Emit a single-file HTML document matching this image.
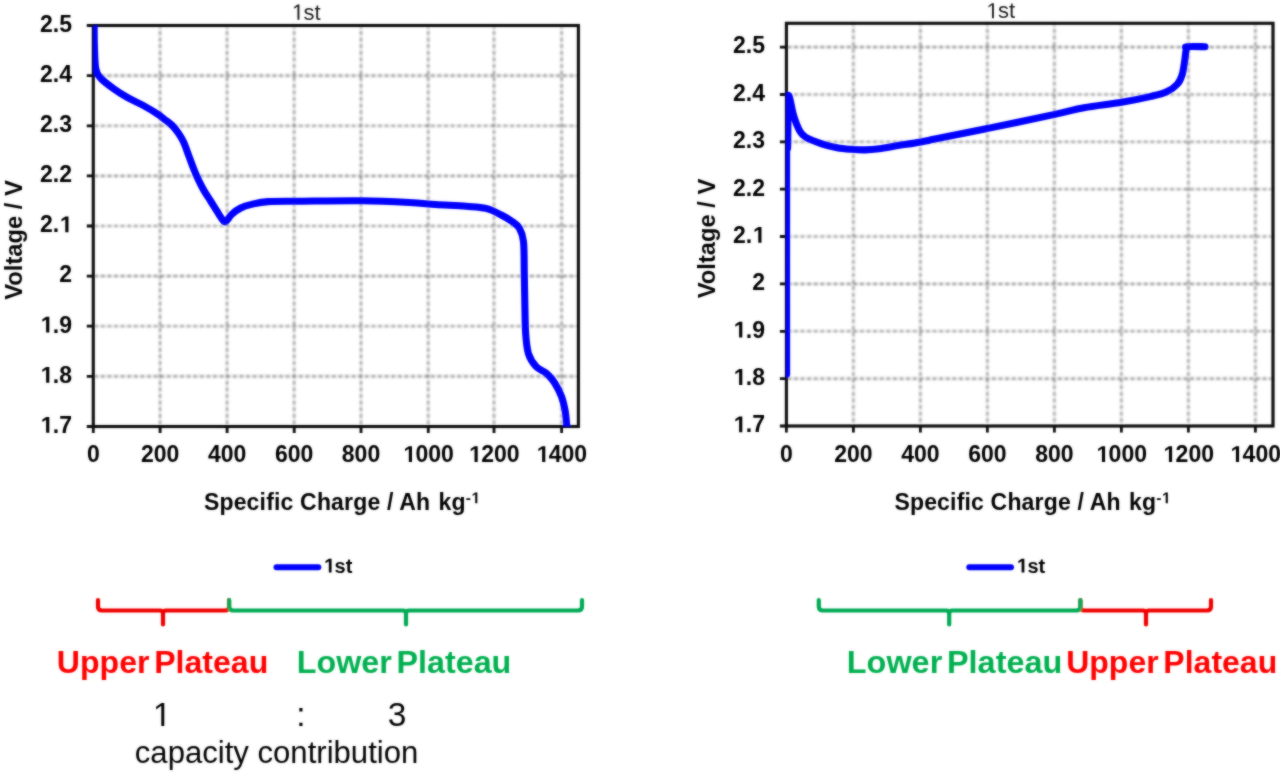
<!DOCTYPE html>
<html><head><meta charset="utf-8"><style>
html,body{margin:0;padding:0;background:#fff;}
body{width:1280px;height:772px;overflow:hidden;}
svg{display:block;}
text{font-family:"Liberation Sans",sans-serif;}
.ax{font-size:23px;font-weight:bold;fill:#000;}
.ti{font-size:22px;fill:#1c1c1c;}
.sup{font-size:15.5px;}
.lg{font-size:20px;font-weight:bold;fill:#000;}
.big{font-size:30.5px;font-weight:bold;}
.reg{font-size:30px;fill:#000;}
</style></head><body>
<svg width="1280" height="772" viewBox="0 0 1280 772">
<rect width="1280" height="772" fill="#fff"></rect>
<defs><filter id="soft" x="0" y="0" width="100%" height="100%" filterUnits="userSpaceOnUse"><feGaussianBlur in="SourceGraphic" stdDeviation="1" result="b"></feGaussianBlur><feComposite in="SourceGraphic" in2="b" operator="arithmetic" k1="0" k2="0.45" k3="0.55" k4="0"></feComposite></filter><filter id="gb" x="-5%" y="-5%" width="110%" height="110%"><feGaussianBlur stdDeviation="1.1"></feGaussianBlur></filter><clipPath id="cl"><rect x="93.3" y="25.5" width="485.1" height="401"></rect></clipPath><clipPath id="cr"><rect x="786.1" y="23.3" width="486.9" height="402.7"></rect></clipPath></defs>
<g id="content" filter="url(#soft)">
<g filter="url(#gb)" stroke="#6a6a6a" stroke-width="1.6" stroke-dasharray="4.2 2.4" fill="none"><path d="M160.1 25.5V426.5M227.1 25.5V426.5M294.2 25.5V426.5M361.0 25.5V426.5M428.3 25.5V426.5M494.0 25.5V426.5M561.6 25.5V426.5" stroke-dashoffset="1.2"></path><path d="M93.3 75.6H578.4M93.3 125.8H578.4M93.3 175.9H578.4M93.3 226.0H578.4M93.3 276.1H578.4M93.3 326.2H578.4M93.3 376.4H578.4" stroke-dashoffset="-0.8"></path></g>
<path d="M86.8 25.5H93.3M86.8 75.6H93.3M86.8 125.8H93.3M86.8 175.9H93.3M86.8 226.0H93.3M86.8 276.1H93.3M86.8 326.2H93.3M86.8 376.4H93.3M86.8 426.5H93.3M93.3 426.5V433.0M160.1 426.5V433.0M227.1 426.5V433.0M294.2 426.5V433.0M361.0 426.5V433.0M428.3 426.5V433.0M494.0 426.5V433.0M561.6 426.5V433.0" stroke="#0a0a0a" stroke-width="2.8" fill="none"></path>
<rect x="93.3" y="25.5" width="485.1" height="401.0" stroke="#0a0a0a" stroke-width="3.1" fill="none"></rect>
<text x="72" y="31.8" class="ax" text-anchor="end">2.5</text>
<text x="72" y="81.9" class="ax" text-anchor="end">2.4</text>
<text x="72" y="132.1" class="ax" text-anchor="end">2.3</text>
<text x="72" y="182.2" class="ax" text-anchor="end">2.2</text>
<text x="72" y="232.3" class="ax" text-anchor="end">2.&#8199;</text>
<text x="72" y="282.4" class="ax" text-anchor="end">2</text>
<text x="72" y="332.6" class="ax" text-anchor="end">&#8199;.9</text>
<text x="72" y="382.7" class="ax" text-anchor="end">&#8199;.8</text>
<text x="72" y="432.8" class="ax" text-anchor="end">&#8199;.7</text>
<text x="93.3" y="462" class="ax" text-anchor="middle">0</text>
<text x="160.1" y="462" class="ax" text-anchor="middle">200</text>
<text x="227.1" y="462" class="ax" text-anchor="middle">400</text>
<text x="294.2" y="462" class="ax" text-anchor="middle">600</text>
<text x="361.0" y="462" class="ax" text-anchor="middle">800</text>
<text x="428.3" y="462" class="ax" text-anchor="middle">&#8199;000</text>
<text x="494.0" y="462" class="ax" text-anchor="middle">&#8199;200</text>
<text x="561.6" y="462" class="ax" text-anchor="middle">&#8199;400</text>
<text x="305.9" y="19.7" class="ti" text-anchor="middle">&#8199;st</text>
<text transform="translate(21.8 240) rotate(-90)" class="ax" text-anchor="middle" textLength="119.5" lengthAdjust="spacingAndGlyphs">Voltage / V</text>
<text x="341.9" y="510" class="ax" text-anchor="middle" letter-spacing="0.18">Specific Charge / Ah <tspan dx="1.7">kg</tspan><tspan class="sup" dy="-6.8">-&#8199;</tspan></text>
<g clip-path="url(#cl)"><path transform="scale(1,1.0)" d="M94.10 20.00 C94.15 24.33 94.12 37.83 94.40 46.00 C94.68 54.17 94.78 63.67 95.80 69.00 C96.82 74.33 97.55 74.73 100.50 78.00 C103.45 81.27 108.97 85.32 113.50 88.60 C118.03 91.88 122.73 94.88 127.70 97.70 C132.67 100.52 138.33 102.78 143.30 105.50 C148.27 108.22 154.00 111.72 157.50 114.00 C161.00 116.28 161.87 117.30 164.30 119.20 C166.73 121.10 169.77 123.10 172.10 125.40 C174.43 127.70 176.37 130.18 178.30 133.00 C180.23 135.82 182.02 138.68 183.70 142.30 C185.38 145.92 186.85 150.57 188.40 154.70 C189.95 158.83 191.58 163.48 193.00 167.10 C194.42 170.72 195.22 172.77 196.90 176.40 C198.58 180.03 200.77 184.72 203.10 188.90 C205.43 193.08 208.30 197.33 210.90 201.50 C213.50 205.67 216.35 210.48 218.70 213.90 C221.05 217.32 222.83 221.93 225.00 222.00 C227.17 222.07 229.08 216.63 231.70 214.30 C234.32 211.97 237.38 209.65 240.70 208.00 C244.02 206.35 247.05 205.47 251.60 204.40 C256.15 203.33 259.93 202.13 268.00 201.60 C276.07 201.07 284.45 201.33 300.00 201.20 C315.55 201.07 343.07 200.58 361.30 200.80 C379.53 201.02 397.00 201.88 409.40 202.50 C421.80 203.12 426.22 203.87 435.70 204.50 C445.18 205.13 457.92 205.65 466.30 206.30 C474.68 206.95 480.17 206.95 486.00 208.40 C491.83 209.85 496.92 212.80 501.30 215.00 C505.68 217.20 509.28 219.40 512.30 221.60 C515.32 223.80 517.53 224.85 519.40 228.20 C521.27 231.55 522.68 234.02 523.50 241.70 C524.32 249.38 524.08 264.33 524.30 274.30 C524.52 284.27 524.57 291.53 524.80 301.50 C525.03 311.47 525.08 325.38 525.70 334.10 C526.32 342.82 526.75 348.38 528.50 353.80 C530.25 359.22 533.18 363.32 536.20 366.60 C539.22 369.88 543.52 370.77 546.60 373.50 C549.68 376.23 552.22 379.15 554.70 383.00 C557.18 386.85 559.78 392.07 561.50 396.60 C563.22 401.13 564.15 405.63 565.00 410.20 C565.85 414.77 566.27 420.37 566.60 424.00 C566.93 427.63 566.93 430.67 567.00 432.00" stroke="#0000ff" stroke-width="7.1" fill="none" stroke-linejoin="round" stroke-linecap="round"></path></g>
<g filter="url(#gb)" stroke="#6a6a6a" stroke-width="1.6" stroke-dasharray="4.2 2.4" fill="none"><path d="M853.4 23.3V426.0M920.4 23.3V426.0M987.4 23.3V426.0M1054.4 23.3V426.0M1121.4 23.3V426.0M1188.4 23.3V426.0M1255.4 23.3V426.0" stroke-dashoffset="1.2"></path><path d="M786.4 47.1H1273.0M786.4 94.5H1273.0M786.4 141.8H1273.0M786.4 189.2H1273.0M786.4 236.5H1273.0M786.4 283.9H1273.0M786.4 331.3H1273.0M786.4 378.6H1273.0" stroke-dashoffset="-0.8"></path></g>
<path d="M779.9 47.1H786.4M779.9 94.5H786.4M779.9 141.8H786.4M779.9 189.2H786.4M779.9 236.5H786.4M779.9 283.9H786.4M779.9 331.3H786.4M779.9 378.6H786.4M779.9 426.0H786.4M786.4 426.0V432.5M853.4 426.0V432.5M920.4 426.0V432.5M987.4 426.0V432.5M1054.4 426.0V432.5M1121.4 426.0V432.5M1188.4 426.0V432.5M1255.4 426.0V432.5" stroke="#0a0a0a" stroke-width="2.8" fill="none"></path>
<rect x="786.4" y="23.3" width="486.6" height="402.7" stroke="#0a0a0a" stroke-width="3.1" fill="none"></rect>
<text x="765" y="53.4" class="ax" text-anchor="end">2.5</text>
<text x="765" y="100.8" class="ax" text-anchor="end">2.4</text>
<text x="765" y="148.1" class="ax" text-anchor="end">2.3</text>
<text x="765" y="195.5" class="ax" text-anchor="end">2.2</text>
<text x="765" y="242.8" class="ax" text-anchor="end">2.&#8199;</text>
<text x="765" y="290.2" class="ax" text-anchor="end">2</text>
<text x="765" y="337.6" class="ax" text-anchor="end">&#8199;.9</text>
<text x="765" y="384.9" class="ax" text-anchor="end">&#8199;.8</text>
<text x="765" y="432.3" class="ax" text-anchor="end">&#8199;.7</text>
<text x="786.4" y="462" class="ax" text-anchor="middle">0</text>
<text x="853.4" y="462" class="ax" text-anchor="middle">200</text>
<text x="920.4" y="462" class="ax" text-anchor="middle">400</text>
<text x="987.4" y="462" class="ax" text-anchor="middle">600</text>
<text x="1054.4" y="462" class="ax" text-anchor="middle">800</text>
<text x="1121.4" y="462" class="ax" text-anchor="middle">&#8199;000</text>
<text x="1188.4" y="462" class="ax" text-anchor="middle">&#8199;200</text>
<text x="1255.4" y="462" class="ax" text-anchor="middle">&#8199;400</text>
<text x="1000.4" y="18.3" class="ti" text-anchor="middle">&#8199;st</text>
<text transform="translate(715.2 238.5) rotate(-90)" class="ax" text-anchor="middle" textLength="119.5" lengthAdjust="spacingAndGlyphs">Voltage / V</text>
<text x="1032.4" y="510" class="ax" text-anchor="middle" letter-spacing="0.18">Specific Charge / Ah <tspan dx="1.7">kg</tspan><tspan class="sup" dy="-6.8">-&#8199;</tspan></text>
<g clip-path="url(#cr)"><path transform="scale(1,1.0)" d="M786.60 374.30 C786.60 337.42 786.43 190.72 786.60 153.00 C786.77 115.28 787.33 156.50 787.60 148.00 C787.87 139.50 787.90 110.50 788.20 102.00 C788.50 93.50 788.48 94.70 789.40 97.00 C790.32 99.30 791.95 110.08 793.70 115.80 C795.45 121.52 797.83 127.68 799.90 131.30 C801.97 134.92 802.47 135.42 806.10 137.50 C809.73 139.58 816.52 142.10 821.70 143.80 C826.88 145.50 832.32 146.78 837.20 147.70 C842.08 148.62 846.37 148.93 851.00 149.30 C855.63 149.67 860.33 150.00 865.00 149.90 C869.67 149.80 873.27 149.47 879.00 148.70 C884.73 147.93 893.40 146.25 899.40 145.30 C905.40 144.35 909.07 144.03 915.00 143.00 C920.93 141.97 923.03 141.50 935.00 139.10 C946.97 136.70 967.03 132.68 986.80 128.60 C1006.57 124.52 1037.40 118.08 1053.60 114.60 C1069.80 111.12 1072.68 109.75 1084.00 107.70 C1095.32 105.65 1110.32 104.18 1121.50 102.30 C1132.68 100.42 1143.57 98.15 1151.10 96.40 C1158.63 94.65 1162.30 93.87 1166.70 91.80 C1171.10 89.73 1174.92 86.87 1177.50 84.00 C1180.08 81.13 1181.03 78.23 1182.20 74.60 C1183.37 70.97 1183.85 66.33 1184.50 62.20 C1185.15 58.07 1185.68 52.38 1186.10 49.80 C1186.52 47.22 1183.85 47.22 1187.00 46.70 C1190.15 46.18 1202.00 46.70 1205.00 46.70" stroke="#0000ff" stroke-width="7.1" fill="none" stroke-linejoin="round" stroke-linecap="round"></path></g>
<!-- legends -->
<path d="M276.5 567.2H318.3" stroke="#0000ff" stroke-width="6" stroke-linecap="round"></path>
<text x="323.5" y="572.6" class="lg">&#8199;st</text>
<path d="M969.3 567.2H1011" stroke="#0000ff" stroke-width="6" stroke-linecap="round"></path>
<text x="1016.3" y="572.6" class="lg">&#8199;st</text>
<!-- brackets -->
<path d="M98 600V606.5Q98 610.5 102 610.5H160Q163 610.5 163 614V624.5M163 614Q163 610.5 166 610.5H225Q229 610.5 229 606.5V600" stroke="#f00000" stroke-width="4.2" fill="none" stroke-linecap="round" stroke-linejoin="round"></path>
<path d="M229.2 600V606.5Q229.2 610.5 233.2 610.5H403Q406 610.5 406 614V624.5M406 614Q406 610.5 409 610.5H578Q582 610.5 582 606.5V600" stroke="#05aa55" stroke-width="4.2" fill="none" stroke-linecap="round" stroke-linejoin="round"></path>
<path d="M1080.4 600V606.5Q1080.4 610.5 1084.4 610.5H1143Q1146 610.5 1146 614V624.5M1146 614Q1146 610.5 1149 610.5H1207Q1211 610.5 1211 606.5V600" stroke="#f00000" stroke-width="4.2" fill="none" stroke-linecap="round" stroke-linejoin="round"></path>
<path d="M818.8 600V606.5Q818.8 610.5 822.8 610.5H946.2Q949.2 610.5 949.2 614V624.5M949.2 614Q949.2 610.5 952.2 610.5H1076.4Q1080.4 610.5 1080.4 606.5V600" stroke="#05aa55" stroke-width="4.2" fill="none" stroke-linecap="round" stroke-linejoin="round"></path>
<text x="56.8" y="673.4" class="big" word-spacing="-4" fill="#ff0000" textLength="211.5" lengthAdjust="spacingAndGlyphs">Upper Plateau</text>
<text x="296.8" y="673.3" class="big" word-spacing="-4" fill="#00b050" textLength="214.5" lengthAdjust="spacingAndGlyphs">Lower Plateau</text>
<text x="846.8" y="673" class="big" word-spacing="-4" fill="#00b050" textLength="215.5" lengthAdjust="spacingAndGlyphs">Lower Plateau</text>
<text x="1066.2" y="673" class="big" word-spacing="-4" fill="#ff0000" textLength="211" lengthAdjust="spacingAndGlyphs">Upper Plateau</text>
<text x="161.1" y="726" class="reg" style="font-size:33.5px" text-anchor="middle">&#8199;</text>
<text x="300.8" y="726" class="reg" style="font-size:33.5px" text-anchor="middle">:</text>
<text x="397" y="726" class="reg" style="font-size:33.5px" text-anchor="middle">3</text>
<text x="134.8" y="762.5" class="reg" style="font-size:31px" textLength="283.5" lengthAdjust="spacingAndGlyphs">capacity contribution</text>
<path d="M545 0V1170L207 959V1180L560 1409H826V0Z" fill="rgb(0, 0, 0)" transform="translate(59.19 232.30) scale(0.01123 -0.01123)"></path><path d="M545 0V1170L207 959V1180L560 1409H826V0Z" fill="rgb(0, 0, 0)" transform="translate(40.02 332.60) scale(0.01123 -0.01123)"></path><path d="M545 0V1170L207 959V1180L560 1409H826V0Z" fill="rgb(0, 0, 0)" transform="translate(40.02 382.70) scale(0.01123 -0.01123)"></path><path d="M545 0V1170L207 959V1180L560 1409H826V0Z" fill="rgb(0, 0, 0)" transform="translate(40.02 432.80) scale(0.01123 -0.01123)"></path><path d="M545 0V1170L207 959V1180L560 1409H826V0Z" fill="rgb(0, 0, 0)" transform="translate(402.71 462.00) scale(0.01123 -0.01123)"></path><path d="M545 0V1170L207 959V1180L560 1409H826V0Z" fill="rgb(0, 0, 0)" transform="translate(468.41 462.00) scale(0.01123 -0.01123)"></path><path d="M545 0V1170L207 959V1180L560 1409H826V0Z" fill="rgb(0, 0, 0)" transform="translate(536.01 462.00) scale(0.01123 -0.01123)"></path><path d="M582 0V1237L264 1010V1180L597 1409H763V0Z" fill="rgb(28, 28, 28)" transform="translate(291.22 19.70) scale(0.01074 -0.01074)"></path><path d="M545 0V1170L207 959V1180L560 1409H826V0Z" fill="rgb(0, 0, 0)" transform="translate(471.09 503.20) scale(0.00757 -0.00757)"></path><path d="M545 0V1170L207 959V1180L560 1409H826V0Z" fill="rgb(0, 0, 0)" transform="translate(752.19 242.80) scale(0.01123 -0.01123)"></path><path d="M545 0V1170L207 959V1180L560 1409H826V0Z" fill="rgb(0, 0, 0)" transform="translate(733.02 337.60) scale(0.01123 -0.01123)"></path><path d="M545 0V1170L207 959V1180L560 1409H826V0Z" fill="rgb(0, 0, 0)" transform="translate(733.02 384.90) scale(0.01123 -0.01123)"></path><path d="M545 0V1170L207 959V1180L560 1409H826V0Z" fill="rgb(0, 0, 0)" transform="translate(733.02 432.30) scale(0.01123 -0.01123)"></path><path d="M545 0V1170L207 959V1180L560 1409H826V0Z" fill="rgb(0, 0, 0)" transform="translate(1095.81 462.00) scale(0.01123 -0.01123)"></path><path d="M545 0V1170L207 959V1180L560 1409H826V0Z" fill="rgb(0, 0, 0)" transform="translate(1162.81 462.00) scale(0.01123 -0.01123)"></path><path d="M545 0V1170L207 959V1180L560 1409H826V0Z" fill="rgb(0, 0, 0)" transform="translate(1229.81 462.00) scale(0.01123 -0.01123)"></path><path d="M582 0V1237L264 1010V1180L597 1409H763V0Z" fill="rgb(28, 28, 28)" transform="translate(985.72 18.30) scale(0.01074 -0.01074)"></path><path d="M545 0V1170L207 959V1180L560 1409H826V0Z" fill="rgb(0, 0, 0)" transform="translate(1161.59 503.20) scale(0.00757 -0.00757)"></path><path d="M545 0V1170L207 959V1180L560 1409H826V0Z" fill="rgb(0, 0, 0)" transform="translate(323.50 572.60) scale(0.00977 -0.00977)"></path><path d="M545 0V1170L207 959V1180L560 1409H826V0Z" fill="rgb(0, 0, 0)" transform="translate(1016.30 572.60) scale(0.00977 -0.00977)"></path><path d="M582 0V1237L264 1010V1180L597 1409H763V0Z" fill="rgb(0, 0, 0)" transform="translate(151.78 726.00) scale(0.01636 -0.01636)"></path></g>
</svg>

</body></html>
